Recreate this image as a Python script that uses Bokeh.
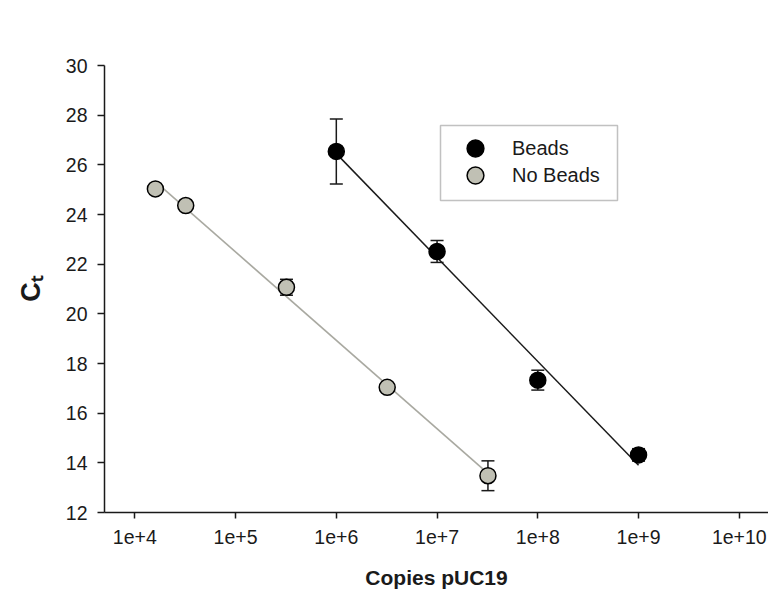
import numpy as np
from bokeh.plotting import figure
from bokeh.models import (ColumnDataSource, Whisker, TeeHead, Legend, LegendItem,
                          FixedTicker, Range1d, BoxAnnotation)
from bokeh.embed import file_html
from bokeh.resources import INLINE

# Standard curves: threshold cycle vs. plasmid copy number
beads_copies = [1e6, 1e7, 1e8, 1e9]
beads_ct = [26.54, 22.51, 17.33, 14.32]
beads_err = [1.31, 0.44, 0.40, 0.25]

nobeads_copies = [1.6e4, 3.2e4, 3.2e5, 3.2e6, 3.2e7]
nobeads_ct = [25.03, 24.36, 21.07, 17.04, 13.48]
nobeads_err = [0.12, 0.12, 0.32, 0.15, 0.60]

x_ticks = [1e4, 1e5, 1e6, 1e7, 1e8, 1e9, 1e10]
x_tick_labels = ["1e+4", "1e+5", "1e+6", "1e+7", "1e+8", "1e+9", "1e+10"]
y_ticks = [12, 14, 16, 18, 20, 22, 24, 26, 28, 30]

FONT = "Liberation Sans"
INK = "#1a1a1a"
GRAY_FILL = "#c0c0b4"
GRAY_LINE = "#a9a9a1"

W, H = 768, 598
BORDER_L, BORDER_R, BORDER_T, BORDER_B = 104, 0, 65, 86
X_LO, X_HI = 5000, 10 ** 10.29
Y_LO, Y_HI = 12, 30


def series_source(copies, ct, err):
    ct = np.asarray(ct)
    err = np.asarray(err)
    return ColumnDataSource(dict(x=copies, y=ct, upper=ct + err, lower=ct - err))


def fit_line(copies, ct):
    lx = np.log10(copies)
    slope, intercept = np.polyfit(lx, ct, 1)
    ends = np.array([min(copies), max(copies)])
    return ends, slope * np.log10(ends) + intercept


p = figure(width=W, height=H, x_axis_type="log",
           x_range=Range1d(X_LO, X_HI), y_range=Range1d(Y_LO, Y_HI),
           output_backend="svg", toolbar_location=None,
           min_border_left=BORDER_L, min_border_right=BORDER_R,
           min_border_top=BORDER_T, min_border_bottom=BORDER_B)
p.grid.visible = False
p.outline_line_color = None
p.background_fill_color = "white"
p.border_fill_color = "white"

src_b = series_source(beads_copies, beads_ct, beads_err)
src_g = series_source(nobeads_copies, nobeads_ct, nobeads_err)

# error bars sit underneath the markers
for src in (src_b, src_g):
    w = Whisker(source=src, base="x", upper="upper", lower="lower",
                dimension="height", line_color=INK, line_width=1.5,
                upper_head=TeeHead(size=13, line_color=INK, line_width=1.5),
                lower_head=TeeHead(size=13, line_color=INK, line_width=1.5),
                level="underlay")
    p.add_layout(w)

# regression lines
fx, fy = fit_line(beads_copies, beads_ct)
p.line(fx, fy, line_color=INK, line_width=1.5)
gx, gy = fit_line(nobeads_copies, nobeads_ct)
p.line(gx, gy, line_color=GRAY_LINE, line_width=1.6)

rb = p.scatter("x", "y", source=src_b, size=16, marker="circle",
               fill_color="black", line_color="black", line_width=1.5)
rg = p.scatter("x", "y", source=src_g, size=16, marker="circle",
               fill_color=GRAY_FILL, line_color="black", line_width=1.5)

# axes
for ax in (p.xaxis[0], p.yaxis[0]):
    ax.axis_line_width = 1.5
    ax.axis_line_color = INK
    ax.major_tick_line_width = 1.5
    ax.major_tick_line_color = INK
    ax.major_tick_in = 0
    ax.minor_tick_line_color = None
    ax.major_label_text_font = FONT
    ax.major_label_text_font_size = "19.5px"
    ax.major_label_text_color = INK

p.xaxis.ticker = FixedTicker(ticks=x_ticks)
p.xaxis.major_label_overrides = dict(zip(x_ticks, x_tick_labels))
p.xaxis.major_tick_out = 6
p.xaxis.major_label_standoff = 11
p.xaxis.axis_label = "Copies pUC19"
p.xaxis.axis_label_text_font = FONT
p.xaxis.axis_label_text_font_style = "bold"
p.xaxis.axis_label_text_font_size = "21px"
p.xaxis.axis_label_text_color = INK
p.xaxis.axis_label_standoff = 19

p.yaxis.ticker = FixedTicker(ticks=y_ticks)
p.yaxis.major_tick_out = 7
p.yaxis.major_label_standoff = 10
# threshold cycle, C with subscript t
p.yaxis.axis_label = "C\u209c"
p.yaxis.axis_label_text_font = FONT
p.yaxis.axis_label_text_font_style = "bold"
p.yaxis.axis_label_text_font_size = "27px"
p.yaxis.axis_label_text_color = INK
p.yaxis.axis_label_standoff = 17

# legend frame, then one legend per entry so the symbols stay full size
box = BoxAnnotation(left=336, right=513, bottom=312, top=387,
                    left_units="screen", right_units="screen",
                    bottom_units="screen", top_units="screen",
                    fill_color="white", fill_alpha=1.0,
                    line_color="#333333", line_width=1.5, level="annotation")
p.add_layout(box)

legend_style = dict(margin=0, padding=0, spacing=0, glyph_width=42, glyph_height=42,
                    label_standoff=16, label_text_font=FONT,
                    label_text_font_size="20px", label_text_color=INK,
                    border_line_color=None, background_fill_alpha=0.0)
p.add_layout(Legend(items=[LegendItem(label="Beads", renderers=[rb])],
                    location=(350, 343), **legend_style))
p.add_layout(Legend(items=[LegendItem(label="No Beads", renderers=[rg])],
                    location=(350, 316), **legend_style))

open("out.html", "w").write(file_html(p, INLINE))
